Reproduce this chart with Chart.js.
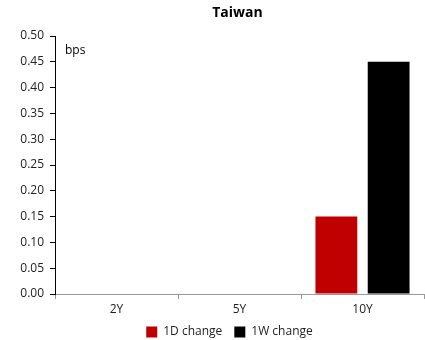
<!DOCTYPE html>
<html>
<head>
<meta charset="utf-8">
<script src="https://cdn.jsdelivr.net/npm/chart.js@4"></script>
<style>
  html, body { margin: 0; padding: 0; background: #fff; }
  #wrap { width: 425px; height: 340px; }
</style>
</head>
<body>
<div id="wrap"><canvas id="myChart" width="425" height="340"></canvas></div>
<script>
const tenors = ['2Y', '5Y', '10Y'];
const oneDayChange = [0, 0, 0.15];
const oneWeekChange = [0, 0, 0.45];
const yTicks = [0, 0.05, 0.10, 0.15, 0.20, 0.25, 0.30, 0.35, 0.40, 0.45, 0.50];

Chart.defaults.font.family = 'Open Sans, Noto Sans, sans-serif';
Chart.defaults.font.size = 12;
Chart.defaults.color = '#222';

// title and unit label sit over the plot area, not the whole canvas
const overlayText = {
    id: 'overlayText',
    afterLayout(chart) {
        // centre the legend under the plot area and pull it up a bit
        const lg = chart.legend;
        lg.left += 17;
        lg.right += 17;
        lg.top -= 4;
        lg.bottom -= 4;
    },
    afterDraw(chart) {
        const ctx = chart.ctx;
        const area = chart.chartArea;
        ctx.save();
        ctx.fillStyle = '#000';
        ctx.textAlign = 'center';
        ctx.textBaseline = 'middle';
        ctx.font = 'bold 14px Open Sans, sans-serif';
        ctx.fillText('Taiwan', (area.left + area.right) / 2 - 2, 13);
        ctx.textAlign = 'left';
        ctx.font = '12px Open Sans, sans-serif';
        ctx.fillText('bps', area.left + 10, 51);
        ctx.restore();
    }
};

const ctx = document.getElementById('myChart').getContext('2d');

new Chart(ctx, {
    type: 'bar',
    data: {
        labels: tenors,
        datasets: [{
            label: '1D change',
            data: oneDayChange,
            backgroundColor: '#C00000',
        },
        {
            label: '1W change',
            data: oneWeekChange,
            backgroundColor: '#000000',
        }]
    },
    options: {
        responsive: false,
        animation: false,
        datasets: {
            bar: {
                categoryPercentage: 0.85,
                barPercentage: 0.8
            }
        },
        layout: {
            padding: { top: 36, left: 1, right: 1, bottom: -12 }
        },
        scales: {
            x: {
                afterFit(axis) { axis.height = 24; },
                grid: {
                    offset: true,
                    drawOnChartArea: false,
                    color: '#999',
                    tickLength: 5
                },
                border: { color: '#999', width: 1 },
                ticks: { color: '#222', padding: 3 }
            },
            y: {
                min: 0,
                max: 0.5,
                afterFit(axis) { axis.width = 54; },
                afterBuildTicks(axis) {
                    axis.ticks = yTicks.map(v => ({ value: v }));
                },
                grid: {
                    drawOnChartArea: false,
                    color: '#000',
                    tickLength: 5
                },
                border: { color: '#000', width: 1 },
                ticks: {
                    color: '#222',
                    padding: 6,
                    callback: v => v.toFixed(2)
                }
            }
        },
        plugins: {
            title: { display: false },
            tooltip: { enabled: false },
            legend: {
                position: 'bottom',
                labels: {
                    boxWidth: 11,
                    boxHeight: 11,
                    padding: 12,
                    color: '#222'
                }
            }
        }
    },
    plugins: [overlayText]
});
</script>
</body>
</html>
